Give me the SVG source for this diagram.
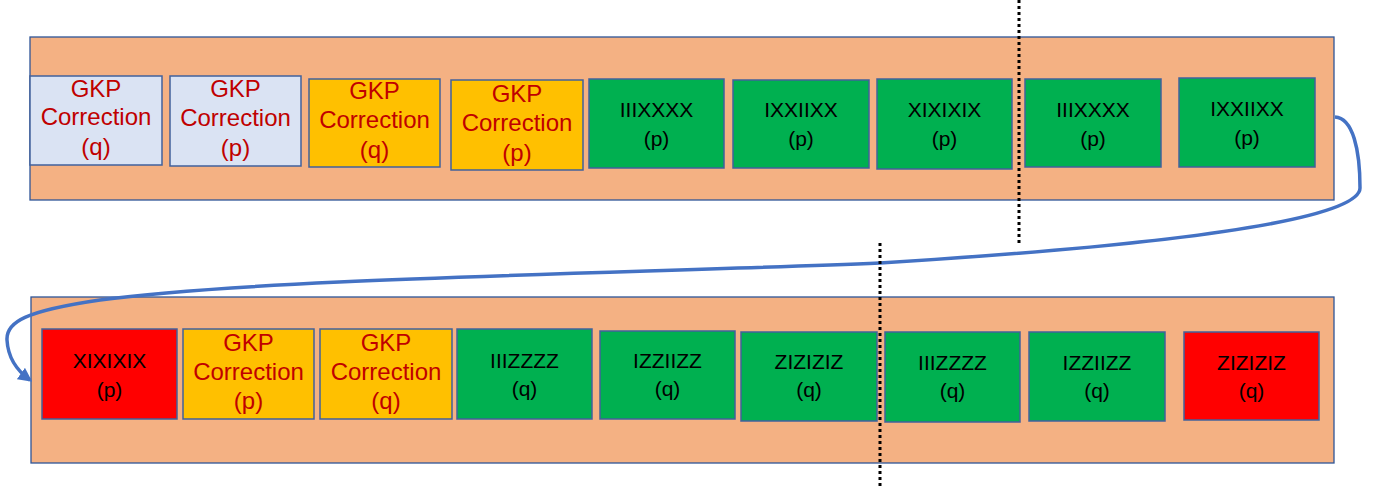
<svg xmlns="http://www.w3.org/2000/svg" width="1383" height="493" viewBox="0 0 1383 493">
<style>
.cont{fill:#F4B183;stroke:#2F5597;stroke-width:1.3}
.box{stroke:#41619C;stroke-width:1.5}
.lb{fill:#DAE3F3}.yl{fill:#FFC000}.gr{fill:#00B050}.rd{fill:#FF0000}
.gkp{font-family:"Liberation Sans",Arial,sans-serif;font-size:24px;fill:#C00000;text-anchor:middle}
.op{font-family:"Liberation Sans",Arial,sans-serif;font-size:21px;fill:#000;text-anchor:middle}
.dot{stroke:#000;stroke-width:3;stroke-dasharray:3 3;fill:none}
.conn{stroke:#4472C4;stroke-width:3.5;fill:none}
</style>
<defs>
<marker id="arr" viewBox="0 0 10 10" refX="8" refY="5" markerWidth="4" markerHeight="4" orient="auto" markerUnits="strokeWidth">
<path d="M0,0 L10,5 L0,10 z" fill="#4472C4"/>
</marker>
</defs>
<g id="row1">
<rect class="cont" x="30" y="37" width="1304" height="163"/>
</g>
<g id="row2">
<rect class="cont" x="31" y="297" width="1303" height="166"/>
</g>
<g id="t1"><rect class="box lb" x="30" y="76" width="132" height="89"/>
<text class="gkp" x="96"><tspan x="96" y="97">GKP</tspan><tspan x="96" y="125">Correction</tspan><tspan x="96" y="155">(q)</tspan></text></g>
<g id="t2"><rect class="box lb" x="170" y="76" width="131" height="90"/>
<text class="gkp"><tspan x="235.5" y="97">GKP</tspan><tspan x="235.5" y="126">Correction</tspan><tspan x="235.5" y="156">(p)</tspan></text></g>
<g id="t3"><rect class="box yl" x="309" y="79" width="131" height="88"/>
<text class="gkp"><tspan x="374.5" y="99">GKP</tspan><tspan x="374.5" y="128">Correction</tspan><tspan x="374.5" y="158">(q)</tspan></text></g>
<g id="t4"><rect class="box yl" x="451" y="80" width="132" height="90"/>
<text class="gkp"><tspan x="517" y="102">GKP</tspan><tspan x="517" y="131">Correction</tspan><tspan x="517" y="161">(p)</tspan></text></g>
<g id="t5"><rect class="box gr" x="589" y="79" width="135" height="89"/>
<text class="op"><tspan x="656.5" y="117">IIIXXXX</tspan><tspan x="656.5" y="146">(p)</tspan></text></g>
<g id="t6"><rect class="box gr" x="733" y="80" width="136" height="88"/>
<text class="op"><tspan x="801" y="117">IXXIIXX</tspan><tspan x="801" y="146">(p)</tspan></text></g>
<g id="t7"><rect class="box gr" x="877" y="79" width="135" height="90"/>
<text class="op"><tspan x="944.5" y="117">XIXIXIX</tspan><tspan x="944.5" y="146">(p)</tspan></text></g>
<g id="t8"><rect class="box gr" x="1025" y="79" width="136" height="88"/>
<text class="op"><tspan x="1093" y="117">IIIXXXX</tspan><tspan x="1093" y="146">(p)</tspan></text></g>
<g id="t9"><rect class="box gr" x="1179" y="78" width="136" height="89"/>
<text class="op"><tspan x="1247" y="116">IXXIIXX</tspan><tspan x="1247" y="145">(p)</tspan></text></g>
<g id="b1"><rect class="box rd" x="42" y="329" width="135" height="90"/>
<text class="op"><tspan x="109.5" y="368">XIXIXIX</tspan><tspan x="109.5" y="397">(p)</tspan></text></g>
<g id="b2"><rect class="box yl" x="183" y="329" width="131" height="90"/>
<text class="gkp"><tspan x="248.5" y="351">GKP</tspan><tspan x="248.5" y="380">Correction</tspan><tspan x="248.5" y="409">(p)</tspan></text></g>
<g id="b3"><rect class="box yl" x="320" y="329" width="132" height="90"/>
<text class="gkp"><tspan x="386" y="351">GKP</tspan><tspan x="386" y="380">Correction</tspan><tspan x="386" y="409">(q)</tspan></text></g>
<g id="b4"><rect class="box gr" x="457" y="329" width="135" height="90"/>
<text class="op"><tspan x="524.5" y="368">IIIZZZZ</tspan><tspan x="524.5" y="396">(q)</tspan></text></g>
<g id="b5"><rect class="box gr" x="600" y="331" width="135" height="88"/>
<text class="op"><tspan x="667.5" y="368">IZZIIZZ</tspan><tspan x="667.5" y="396">(q)</tspan></text></g>
<g id="b6"><rect class="box gr" x="741" y="332" width="136" height="89"/>
<text class="op"><tspan x="809" y="369">ZIZIZIZ</tspan><tspan x="809" y="397">(q)</tspan></text></g>
<g id="b7"><rect class="box gr" x="885" y="332" width="135" height="90"/>
<text class="op"><tspan x="952.5" y="370">IIIZZZZ</tspan><tspan x="952.5" y="398">(q)</tspan></text></g>
<g id="b8"><rect class="box gr" x="1029" y="332" width="136" height="89"/>
<text class="op"><tspan x="1097" y="370">IZZIIZZ</tspan><tspan x="1097" y="398">(q)</tspan></text></g>
<g id="b9"><rect class="box rd" x="1184" y="332" width="135" height="88"/>
<text class="op"><tspan x="1251.5" y="370">ZIZIZIZ</tspan><tspan x="1251.5" y="398">(q)</tspan></text></g>
<g id="connectors">
<path class="conn" marker-end="url(#arr)" d="M1335,117 C1353,118 1360,150 1360,188 C1360,212 1250,240 880,263 C650,273 260,278 100,300 C25,311 6,322 7,340 C8,358 16,370 30,380"/>
<line class="dot" x1="1019" y1="0" x2="1019" y2="244"/>
<line class="dot" x1="880" y1="243" x2="880" y2="488"/>
</g>
</svg>
